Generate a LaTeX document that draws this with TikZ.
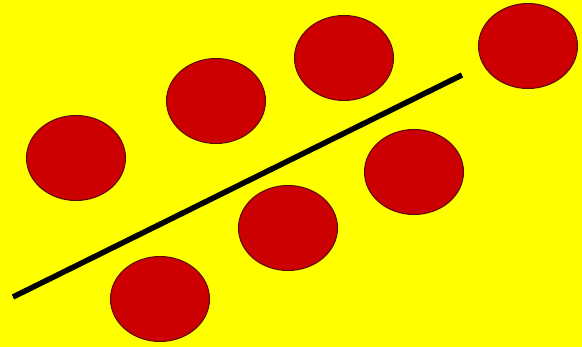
\documentclass[tikz,border=0pt]{standalone}
\usepackage{tikz}
\usetikzlibrary{shapes.geometric}
\definecolor{bgyellow}{HTML}{FFFF00}
\definecolor{cellred}{HTML}{CC0000}
\definecolor{cellrim}{HTML}{5A0A0A}

\begin{document}
\begin{tikzpicture}[x=1pt,y=-1pt,
  cell/.style={ellipse, fill=cellred, draw=cellrim, line width=1pt,
    minimum width=99pt, minimum height=85pt, inner sep=0pt}]
  % Background
  \fill[bgyellow] (0,0) rectangle (582,347);
  \useasboundingbox (0,0) rectangle (582,347);

  % Cells above the line
  \node[cell] (c1) at (76,158) {};
  \node[cell] (c2) at (216,101) {};
  \node[cell] (c3) at (344,58) {};
  \node[cell] (c4) at (528,46) {};

  % Cells below the line
  \node[cell] (c5) at (414,172) {};
  \node[cell] (c6) at (288,228) {};
  \node[cell] (c7) at (160,299) {};

  % Separating line
  \coordinate (sepA) at (13,297);
  \coordinate (sepB) at (462,75);
  \draw[line width=5.5pt, black] (sepA) -- (sepB);
\end{tikzpicture}
\end{document}
